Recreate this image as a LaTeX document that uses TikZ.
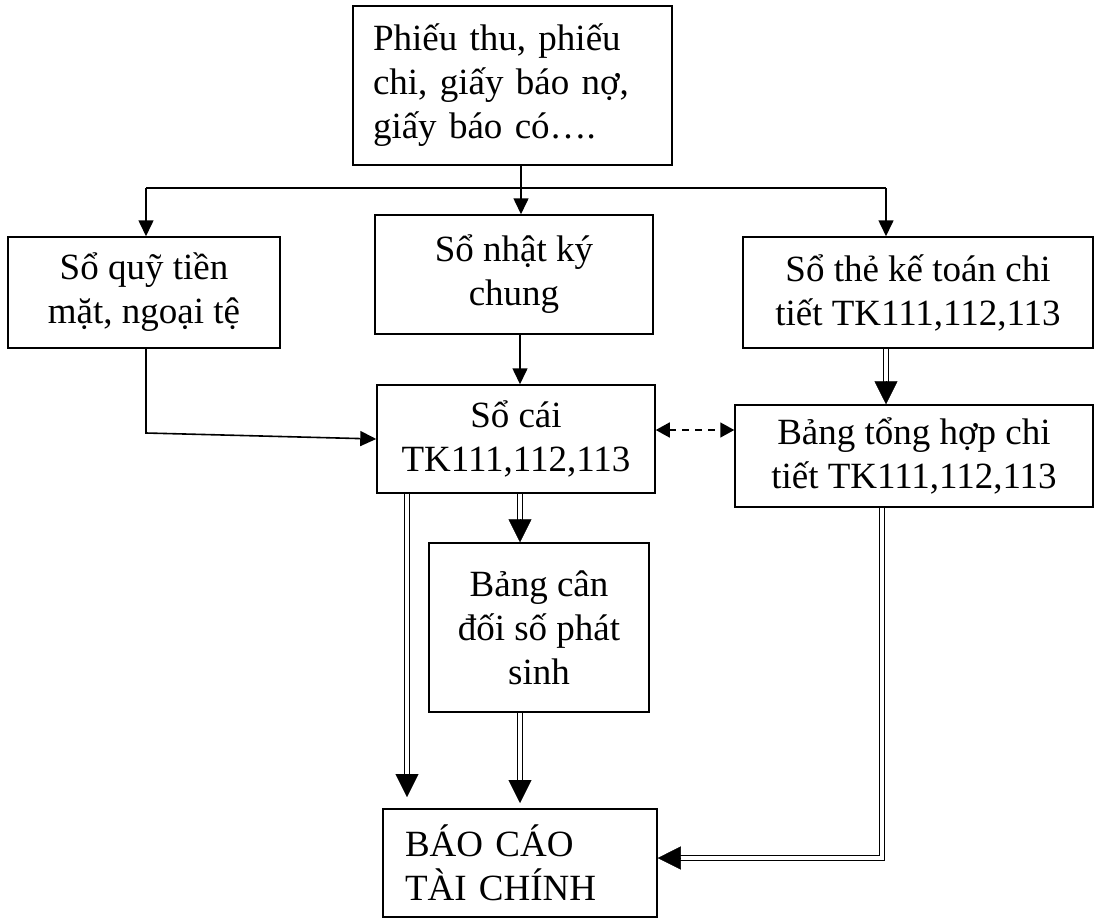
\documentclass[tikz,border=0pt]{standalone}
\usepackage{fontspec}
\setmainfont{Liberation Serif}
\usetikzlibrary{arrows.meta,calc}
\newcommand\dblarrow[2]{%
  \draw[dbl] (#1) -- ($(#2)!20pt!(#1)$);
  \draw[dtip] ($(#2)!2pt!(#1)$) -- (#2);}
\begin{document}
\begin{tikzpicture}[x=1pt,y=-1pt,
  box/.style={draw, line width=1.5pt, inner sep=0pt, align=center,
    font=\fontsize{37}{44}\selectfont},
  conn/.style={line width=1.6pt},
  arr/.style={conn, -{Triangle[width=15pt,length=16pt]}},
  dsh/.style={line width=1.6pt, dash pattern=on 7pt off 6pt,
    {Triangle[width=15pt,length=14pt]}-{Triangle[width=15pt,length=14pt]}},
  dbl/.style={double, double distance=3.5pt, line width=1.4pt, line join=miter},
  dtip/.style={line width=0.4pt, -{Triangle[width=23pt,length=23pt]}},
]
\useasboundingbox (0,0) rectangle (1097,918);

% boxes
\node[box, minimum width=319pt, minimum height=159pt, text width=279pt,
  inner xsep=20pt, align=left] (src) at (512.5,85.5)
  {Phiếu thu, phiếu\\chi, giấy báo nợ,\\giấy báo có….};
\node[box, minimum width=272pt, minimum height=111pt] (quy) at (144,292.5)
  {Sổ quỹ tiền\\mặt, ngoại tệ};
\node[box, minimum width=278pt, minimum height=119pt] (nky) at (514,274.5)
  {Sổ nhật ký\\chung};
\node[box, minimum width=350pt, minimum height=111pt] (the) at (918,292.5)
  {Sổ thẻ kế toán chi\\tiết TK111,112,113};
\node[box, minimum width=278pt, minimum height=108pt] (socai) at (516,439)
  {Sổ cái\\TK111,112,113};
\node[box, minimum width=358pt, minimum height=102pt] (bth) at (914,456)
  {Bảng tổng hợp chi\\tiết TK111,112,113};
\node[box, minimum width=220pt, minimum height=169pt] (bcd) at (539,627.5)
  {Bảng cân\\đối số phát\\sinh};
\node[box, minimum width=274pt, minimum height=108pt, text width=230pt,
  inner xsep=22pt, align=left] (bctc) at (520,863)
  {BÁO CÁO\\TÀI CHÍNH};

% distribution from source
\coordinate (jL) at (146,188);
\coordinate (jM) at (521,188);
\coordinate (jR) at (886,188);
\draw[conn] (src.south -| jM) -- (jM);
\draw[conn] (jL) -- (jR);
\draw[arr] (jL) -- (jL |- quy.north);
\draw[arr] (jM) -- (jM |- nky.north);
\draw[arr] (jR) -- (jR |- the.north);

% nhat ky chung -> so cai
\coordinate (xM) at (520,0);
\draw[arr] (nky.south -| xM) -- (socai.north -| xM);

% so quy -> so cai
\coordinate (bend) at (146,433);
\draw[arr] (quy.south -| bend) -- (bend) -- (socai.west);

% so cai <-> bang tong hop
\coordinate (dy) at (0,430);
\draw[dsh] (socai.east |- dy) -- (bth.west |- dy);

% so the -> bang tong hop
\coordinate (xR) at (886,0);
\coordinate (t1) at (the.south -| xR);
\coordinate (t2) at (bth.north -| xR);
\dblarrow{t1}{t2}

% so cai -> bao cao
\coordinate (xL) at (407,0);
\coordinate (s1) at (socai.south -| xL);
\coordinate (s2) at (407,797);
\dblarrow{s1}{s2}

% so cai -> bang can doi
\coordinate (c1) at (socai.south -| xM);
\coordinate (c2) at (bcd.north -| xM);
\dblarrow{c1}{c2}

% bang can doi -> bao cao
\coordinate (d1) at (bcd.south -| xM);
\coordinate (d2) at (520,803);
\dblarrow{d1}{d2}

% bang tong hop -> bao cao
\coordinate (xB) at (882,0);
\coordinate (b1) at (bth.south -| xB);
\coordinate (b2) at (882,858);
\coordinate (b3) at (bctc.east |- b2);
\draw[dbl] (b1) -- (b2) -- ($(b3)!20pt!(b2)$);
\draw[dtip] ($(b3)!2pt!(b2)$) -- (b3);
\end{tikzpicture}
\end{document}
